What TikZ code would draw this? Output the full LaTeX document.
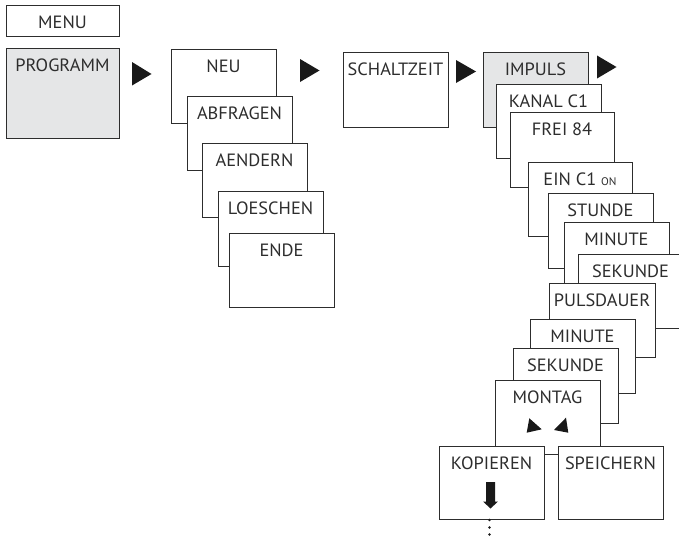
\documentclass[tikz,border=0pt]{standalone}
\usepackage{fontspec}
\setmainfont{PT Sans}[FakeStretch=1.03]
\definecolor{boxline}{RGB}{45,45,45}
\definecolor{boxgray}{RGB}{229,230,231}
\definecolor{arrowfill}{RGB}{25,25,25}
\tikzset{
  menubox/.style={draw=boxline, line width=0.9pt, fill=white, rectangle, anchor=north west, inner sep=0pt, outer sep=0pt},
  graybox/.style={menubox, fill=boxgray},
  menutext/.style={anchor=base, inner sep=0pt, text=boxline, font=\fontsize{17.8}{20}\selectfont},
  bigtri/.style={fill=arrowfill, draw=none}
}
\newcommand{\mybox}[7]{% name, x1, y1, x2, y2, style, text
  \node[#6, minimum width={(#4-#2)*1pt}, minimum height={(#5-#3)*1pt}] (#1) at (#2,#3) {};
  \node[menutext] (#1t) at ([yshift=-23.5pt]#1.north) {#7};
}
\begin{document}
\begin{tikzpicture}[x=1pt,y=-1pt]
\useasboundingbox (0,0) rectangle (679,535);
\clip (0,0) rectangle (679,535);
% left column
\node[menubox, minimum width=113pt, minimum height=31pt] (menu) at (6,5) {};
\node[menutext] (menut) at ([yshift=-24pt]menu.north) {MENU};
\mybox{prog}{6}{48}{119}{138}{graybox}{PROGRAMM}
% first stack
\mybox{neu}{171}{49}{276}{123}{menubox}{NEU}
\mybox{abf}{187}{96}{292}{170}{menubox}{ABFRAGEN}
\mybox{aend}{202}{143}{307}{217}{menubox}{AENDERN}
\mybox{loe}{218}{191}{323}{266}{menubox}{LOESCHEN}
\mybox{ende}{229}{233}{334}{307}{menubox}{ENDE}
% schaltzeit
\mybox{schalt}{343}{52}{448}{127}{menubox}{SCHALTZEIT}
% impuls stack
\mybox{imp}{483}{52}{588}{127}{graybox}{IMPULS}
\mybox{kanal}{496}{84}{601}{158}{menubox}{KANAL C1}
\mybox{frei}{510}{112}{614}{187}{menubox}{FREI 84}
\mybox{ein}{528}{162}{632}{236}{menubox}{EIN C1 {\fontsize{11}{12}\selectfont ON}}
\mybox{stunde}{548}{193}{653}{268}{menubox}{STUNDE}
\mybox{minA}{564}{222}{669}{296}{menubox}{MINUTE}
\mybox{sekA}{578}{254}{683}{328}{menubox}{SEKUNDE}
\mybox{puls}{549}{283}{655}{357}{menubox}{PULSDAUER}
\mybox{minB}{530}{319}{635}{393}{menubox}{MINUTE}
\mybox{sekB}{513}{348}{618}{423}{menubox}{SEKUNDE}
\mybox{mont}{495}{380}{600}{454}{menubox}{MONTAG}
\mybox{kop}{439}{446}{544}{519}{menubox}{KOPIEREN}
\mybox{speich}{558}{446}{663}{519}{menubox}{SPEICHERN}
% right-pointing triangles
\fill[bigtri] (132,62) -- (151.5,74) -- (132,85.5) -- cycle;
\fill[bigtri] (300,59) -- (319.5,70.5) -- (300,82) -- cycle;
\fill[bigtri] (456,60) -- (476,71.5) -- (456,83) -- cycle;
\fill[bigtri] (597,55.5) -- (616.5,67) -- (597,78.5) -- cycle;
% small triangles in MONTAG
\fill[bigtri] (529.3,418.3) -- (541.7,429.3) -- (526.7,432.7) -- cycle;
\fill[bigtri] (566,417.7) -- (568.3,432.7) -- (554,430) -- cycle;
% down arrow in KOPIEREN
\fill[bigtri] (486,482) -- (495,482) -- (495,501.7) -- (497.8,501.7) -- (490.5,508.5) -- (483.2,501.7) -- (486,501.7) -- cycle;
% dots below
\foreach \yy in {520,527.5,534.5} \fill[arrowfill] (489.5,\yy) circle (1.3pt);
\end{tikzpicture}
\end{document}
